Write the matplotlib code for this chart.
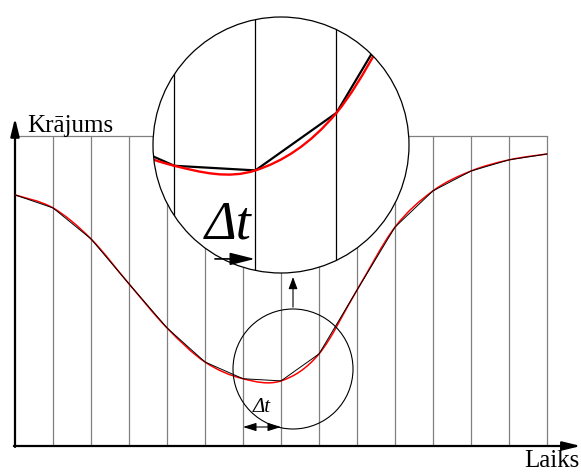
import numpy as np
import matplotlib.pyplot as plt
from matplotlib.patches import Circle, Ellipse, PathPatch
from matplotlib.path import Path

# stock level sampled at equal time steps
t = np.arange(15)
stock = [81.0, 76.8, 66.8, 52.3, 38.1, 27.1, 21.7, 21.0, 29.7, 50.3, 70.6, 82.3, 88.7, 92.3, 94.2]
y_label = "Krājums"
x_label = "Laiks"
step_label = "Δt"

# region around the minimum that gets magnified
zoom_center = (7.316, 24.84)
zoom_half = (60 / 38, 60 / 3.1)

serif = "Liberation Serif"


def smooth_path(x, y):
    # Catmull-Rom curve through the samples, as cubic Bezier segments
    p = np.column_stack([x, y]).astype(float)
    ext = np.vstack([p[0], p, p[-1]])
    verts = [p[0]]
    codes = [Path.MOVETO]
    for i in range(len(p) - 1):
        p0, p1, p2, p3 = ext[i], ext[i + 1], ext[i + 2], ext[i + 3]
        verts += [p1 + (p2 - p0) / 6, p2 - (p3 - p1) / 6, p2]
        codes += [Path.CURVE4] * 3
    return Path(verts, codes)


fig = plt.figure(figsize=(5.81, 4.73), dpi=100)
ax = fig.add_axes([0, 0, 1, 1])
ax.set_xlim(-15 / 38, 566 / 38)
ax.set_ylim(-27 / 3.1, 446 / 3.1)
ax.axis("off")

# grid of time steps
ax.vlines(t[1:], 0, 100, colors="#808080", lw=0.9, zorder=1)
ax.plot([0, 14], [100, 100], color="#808080", lw=0.9, zorder=1)

# axes with arrows
axis_arrow = dict(arrowstyle="-|>,head_length=0.9,head_width=0.22", mutation_scale=12,
                  lw=1.6, color="k", shrinkA=0, shrinkB=0)
ax.annotate("", xy=(0, 105.8), xytext=(0, -0.3), arrowprops=axis_arrow)
ax.annotate("", xy=(14.89, 0), xytext=(-0.03, 0), arrowprops=axis_arrow)
ax.text(0.316, 101.3, y_label, family=serif, fontsize=18, va="baseline", ha="left")
fig.text(579 / 581, 0.002, x_label, family=serif, fontsize=18, va="bottom", ha="right")

# curves
ax.add_patch(PathPatch(smooth_path(t, stock), fill=False, ec="red", lw=1.1, zorder=3))
ax.plot(t, stock, color="k", lw=0.7, zorder=4)

# small circle, step arrow and label
ax.add_patch(Ellipse(zoom_center, 2 * zoom_half[0], 2 * zoom_half[1], fill=False,
                     ec="k", lw=0.8, zorder=5))
ax.annotate("", xy=(7, 6.13), xytext=(6, 6.13),
            arrowprops=dict(arrowstyle="<|-|>,head_length=0.8,head_width=0.25",
                            mutation_scale=10, lw=0.8, color="k", shrinkA=0, shrinkB=0))
ax.text(6.263, 10.97, step_label, family=serif, style="italic", fontsize=15, va="baseline")
ax.annotate("", xy=(7.316, 54.5), xytext=(7.316, 44.8),
            arrowprops=dict(arrowstyle="-|>,head_length=0.8,head_width=0.3",
                            mutation_scale=9, lw=0.8, color="k", shrinkA=0, shrinkB=0))

# magnified view
ins = fig.add_axes([153 / 581, 200 / 473, 256 / 581, 256 / 473])
ins.set_xlim(zoom_center[0] - zoom_half[0], zoom_center[0] + zoom_half[0])
ins.set_ylim(zoom_center[1] - zoom_half[1], zoom_center[1] + zoom_half[1])
ins.axis("off")

disc = Circle((0.5, 0.5), 0.5, transform=ins.transAxes, fc="white", ec="none", zorder=0)
ins.add_patch(disc)
lc = ins.vlines(t, 0, 100, colors="k", lw=0.9, zorder=1)
lc.set_clip_path(disc)
red = PathPatch(smooth_path(t, stock), fill=False, ec="red", lw=1.7, zorder=3)
ins.add_patch(red)
red.set_clip_path(disc)
blk, = ins.plot(t, stock, color="k", lw=1.6, zorder=2)
blk.set_clip_path(disc)
ins.text(0.203, 0.133, step_label, transform=ins.transAxes, family=serif, style="italic",
         fontsize=39, va="baseline", zorder=4)
ins.annotate("", xy=(0.398, 0.055), xytext=(0.242, 0.055), xycoords="axes fraction",
             arrowprops=dict(arrowstyle="-|>,head_length=0.8,head_width=0.2",
                             mutation_scale=19, lw=1.2, color="k", shrinkA=0, shrinkB=0))
ins.add_patch(Circle((0.5, 0.5), 0.5, transform=ins.transAxes, fill=False, ec="k",
                     lw=0.9, zorder=6, clip_on=False))

fig.savefig("out.png", dpi=100)
